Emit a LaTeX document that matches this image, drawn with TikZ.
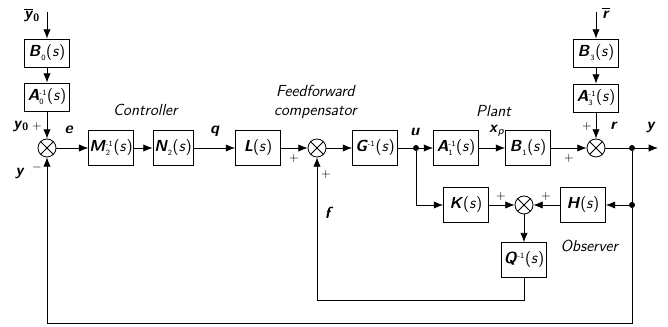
\documentclass[tikz,border=0pt]{standalone}
\usepackage{amsmath}
\usepackage{fontspec}
\usetikzlibrary{arrows.meta}
\renewcommand{\familydefault}{\sfdefault}
\newcommand{\bv}[1]{\textbf{\textit{#1}}}
\newcommand{\tfs}[3]{\bv{#1}$^{\scriptscriptstyle\textsf{#2}}_{\scriptscriptstyle\textsf{#3}}$(\textit{s})}

\tikzset{
  blk/.style={draw, minimum width=33.75pt, minimum height=26pt, inner sep=0.5pt},
  sblk/.style={blk, minimum height=21pt},
  sumnode/.style={draw, circle, minimum size=13.5pt, inner sep=0pt,
    path picture={\draw (path picture bounding box.north west) -- (path picture bounding box.south east)
      (path picture bounding box.north east) -- (path picture bounding box.south west);}},
  jdot/.style={circle, fill, inner sep=0pt, minimum size=4.5pt},
  sgn/.style={font=\fontsize{9}{10}\selectfont},
}

\begin{document}
\begin{tikzpicture}[x=0.75pt, y=-0.75pt, >={Latex[length=7pt,width=5.5pt]}, line width=0.6pt, font=\fontsize{12}{14}\selectfont]
      \useasboundingbox (0,0) rectangle (668,327);
      % reference branch
      \coordinate (ty0) at (47,12);
      \node[sblk] (B0) at (47,53) {\tfs{B}{}{0}};
      \node[sblk] (A0) at (47,97) {\tfs{A}{-1}{0}};
      \node[sumnode] (s1) at (47,148) {};
      % forward path
      \node[blk, minimum width=30pt] (M2) at (111,148) {\tfs{M}{-1}{2}};
      \node[blk, minimum width=30pt] (N2) at (173,148) {\tfs{N}{}{2}};
      \node[blk] (L) at (258,148) {\bv{L}(\textit{s})};
      \node[sumnode] (s2) at (317,148) {};
      \node[blk] (G) at (375,148) {\tfs{G}{-1}{}};
      \node[jdot] (ud) at (416,148) {};
      \node[blk] (A1) at (456,148) {\tfs{A}{-1}{1}};
      \node[blk] (B1) at (528,148) {\tfs{B}{}{1}};
      \node[sumnode] (s3) at (596,148) {};
      \node[jdot] (yd) at (632,148) {};
      \coordinate (yout) at (658,148);
      % disturbance branch
      \coordinate (tr) at (596,12);
      \node[sblk] (B3) at (596,53) {\tfs{B}{}{3}};
      \node[sblk] (A3) at (596,98) {\tfs{A}{-1}{3}};
      % observer
      \node[blk] (K) at (466,205) {\bv{K}(\textit{s})};
      \node[sumnode] (s4) at (524,205) {};
      \node[blk] (H) at (583,205) {\bv{H}(\textit{s})};
      \node[jdot] (hd) at (632,205) {};
      \node[blk] (Q) at (524,260) {\tfs{Q}{-1}{}};
      \coordinate (cq) at (524,300);
      \coordinate (cb) at (632,323);

      \draw[->] (ty0) -- (B0);
      \draw[->] (B0) -- (A0);
      \draw[->] (A0) -- (s1);
      \draw[->] (s1) -- (M2);
      \draw[->] (M2) -- (N2);
      \draw[->] (N2) -- (L);
      \draw[->] (L) -- (s2);
      \draw[->] (s2) -- (G);
      \draw (G) -- (ud);
      \draw[->] (ud) -- (A1);
      \draw[->] (A1) -- (B1);
      \draw[->] (B1) -- (s3);
      \draw[->] (tr) -- (B3);
      \draw[->] (B3) -- (A3);
      \draw[->] (A3) -- (s3);
      \draw (s3) -- (yd);
      \draw[->] (yd) -- (yout);
      \draw[->] (ud) |- (K);
      \draw[->] (K) -- (s4);
      \draw[->] (H) -- (s4);
      \draw[->] (hd) -- (H);
      \draw[->] (s4) -- (Q);
      \draw[->] (Q) -- (cq) -| (s2);
      \draw[->] (yd) -- (hd) -- (cb) -| (s1);

      % labels
      \node (ly0b) at (32,15) {$\overline{\hbox{\bv{y}}}$\textsubscript{\textbf{0}}};
      \node (ly0) at (21,126) {\bv{y}\textsubscript{\textbf{0}}};
      \node[sgn] (p1) at (37,126) {+};
      \node (le) at (69,130) {\bv{e}};
      \node (ly) at (20,173) {\bv{y}};
      \node[sgn] (m1) at (37,168) {$-$};
      \node (lctrl) at (146,110) {\textit{Controller}};
      \node (lq) at (215,131) {\bv{q}};
      \node[align=center] (lff) at (316,102) {\textit{Feedforward}\\\textit{compensator}};
      \node[sgn] (p2) at (294,158) {+};
      \node[sgn] (p3) at (326,174) {+};
      \node (lu) at (415,132) {\bv{u}};
      \node (lplant) at (494,111) {\textit{Plant}};
      \node (lxp) at (497,131) {\bv{x}\textsubscript{\textit{p}}};
      \node[sgn] (p4) at (569,158) {+};
      \node[sgn] (p5) at (587,126) {+};
      \node (lrb) at (606,13) {$\overline{\hbox{\bv{r}}}$};
      \node (lr) at (614,126) {\bv{r}};
      \node (lyo) at (651,127) {\bv{y}};
      \node (lf) at (329,213) {\bv{f}};
      \node[sgn] (p6) at (501,196) {+};
      \node[sgn] (p7) at (546,196) {+};
      \node (lobs) at (590,246) {\textit{Observer}};
\end{tikzpicture}
\end{document}
